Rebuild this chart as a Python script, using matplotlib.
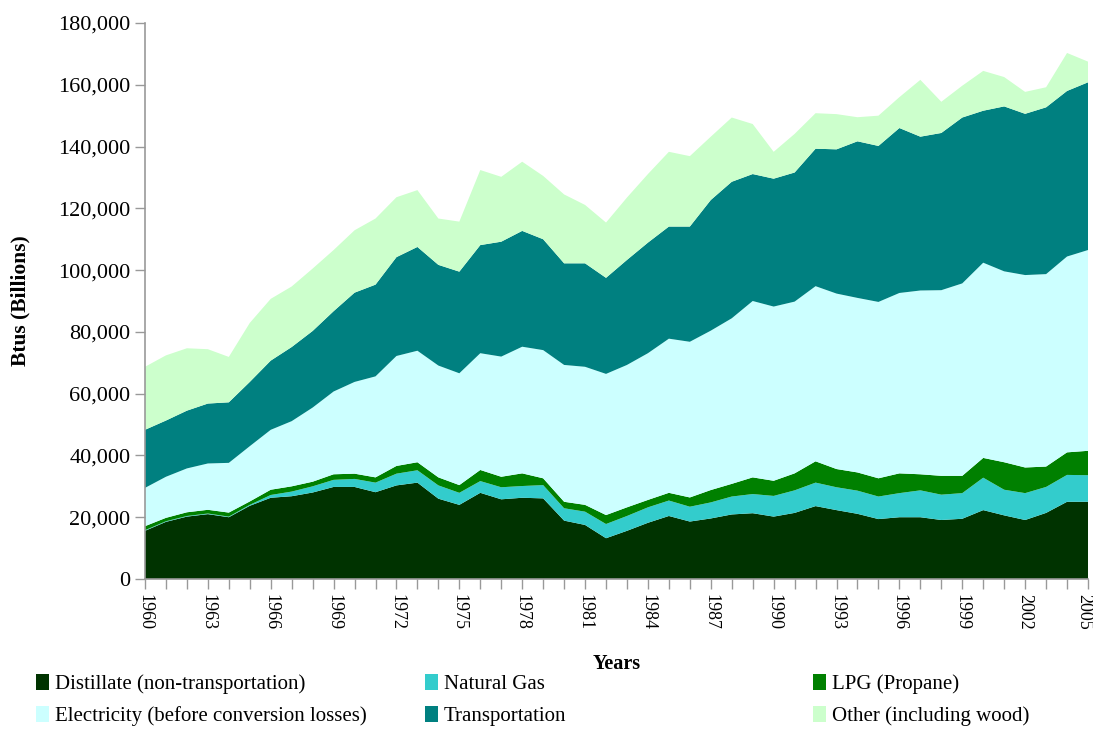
import matplotlib
matplotlib.use('Agg')
import matplotlib.pyplot as plt
import matplotlib.transforms as mtransforms
from matplotlib.patches import Patch
from matplotlib.ticker import FuncFormatter

years = list(range(1960, 2006))

# Btus (billions), in thousands
distillate = [15.6, 18.5, 20.2, 21.0, 20.0, 23.7, 26.3, 26.8, 28.0, 29.8,
              29.8, 28.1, 30.3, 31.2, 26.0, 24.0, 27.9, 25.8, 26.3, 26.1,
              18.9, 17.5, 13.2, 15.6, 18.2, 20.4, 18.6, 19.6, 20.9, 21.3,
              20.2, 21.4, 23.6, 22.3, 21.1, 19.4, 20.0, 20.0, 19.1, 19.5,
              22.3, 20.6, 19.1, 21.4, 25.0, 25.0]
natural_gas = [0.2, 0.2, 0.2, 0.2, 0.2, 0.3, 0.9, 1.5, 2.0, 2.3,
               2.6, 3.1, 3.8, 4.0, 4.3, 3.9, 3.8, 3.9, 3.8, 4.3,
               4.0, 4.3, 4.6, 4.8, 5.0, 5.0, 4.8, 5.2, 5.8, 6.2,
               6.7, 7.3, 7.6, 7.4, 7.5, 7.3, 7.8, 8.7, 8.2, 8.3,
               10.5, 8.3, 8.7, 8.4, 8.7, 8.6]
lpg = [1.3, 1.1, 1.2, 1.2, 1.3, 1.1, 1.7, 1.7, 1.5, 1.8,
       1.7, 1.7, 2.5, 2.6, 2.6, 2.5, 3.6, 3.4, 4.1, 2.2,
       2.1, 2.2, 2.9, 2.8, 2.4, 2.5, 3.0, 4.0, 4.1, 5.4,
       4.9, 5.5, 6.9, 5.9, 5.9, 5.9, 6.4, 5.2, 6.1, 5.6,
       6.4, 8.9, 8.3, 6.6, 7.3, 7.9]
electricity = [12.4, 13.3, 14.2, 15.0, 16.1, 17.9, 19.4, 21.1, 24.0, 26.8,
               29.7, 32.7, 35.6, 36.1, 36.2, 36.2, 37.8, 38.9, 41.0, 41.5,
               44.3, 44.7, 45.7, 46.1, 47.5, 49.9, 50.4, 51.6, 53.6, 57.1,
               56.4, 55.6, 56.7, 56.8, 56.5, 57.1, 58.4, 59.5, 60.1, 62.3,
               63.2, 61.8, 62.3, 62.3, 63.4, 65.0]
transportation = [18.8, 18.2, 18.7, 19.4, 19.6, 20.8, 22.4, 24.0, 24.8, 26.0,
                  28.9, 29.7, 32.0, 33.6, 32.6, 32.9, 35.0, 37.2, 37.5, 35.9,
                  32.9, 33.5, 31.1, 34.0, 35.8, 36.3, 37.3, 42.3, 44.2, 41.1,
                  41.4, 41.8, 44.5, 46.7, 50.7, 50.5, 53.4, 49.8, 50.9, 53.7,
                  49.2, 53.4, 52.2, 54.0, 53.6, 54.3]
other = [20.4, 21.1, 20.2, 17.6, 14.7, 19.1, 20.0, 19.6, 20.2, 19.8,
         20.2, 21.4, 19.4, 18.4, 15.0, 16.2, 24.3, 21.0, 22.4, 20.5,
         22.3, 18.9, 17.9, 20.2, 22.2, 24.2, 22.8, 20.5, 20.8, 16.2,
         8.7, 12.5, 11.5, 11.4, 7.8, 9.8, 10.0, 18.4, 10.1, 10.3,
         12.9, 9.5, 7.1, 6.5, 12.3, 6.7]

labels = ['Distillate (non-transportation)', 'Natural Gas', 'LPG (Propane)',
          'Electricity (before conversion losses)', 'Transportation',
          'Other (including wood)']
colors = ['#003300', '#33CCCC', '#008000', '#CCFFFF', '#008080', '#CCFFCC']

series = [distillate, natural_gas, lpg, electricity, transportation, other]
series = [[v * 1000 for v in s] for s in series]

plt.rcParams['font.family'] = ['Liberation Serif', 'DejaVu Serif']

fig = plt.figure(figsize=(10.93, 7.3), dpi=100)
ax = fig.add_axes([145 / 1093, 151 / 730, 943 / 1093, 556 / 730])

ax.stackplot(years, *series, colors=colors, linewidth=0)

ax.set_xlim(1960, 2005)
ax.set_ylim(0, 180000)
ax.set_yticks(range(0, 180001, 20000))
ax.yaxis.set_major_formatter(FuncFormatter(lambda v, p: '{:,.0f}'.format(v)))
ax.set_xticks(years)
ax.set_xticklabels([str(y) if (y - 1960) % 3 == 0 else '' for y in years],
                   rotation=-90, fontsize=13)
ax.tick_params(axis='y', labelsize=16, color='#999999', length=7, width=1)
ax.tick_params(axis='x', color='#999999', length=7, width=1, pad=4)

# last label sits right at the figure edge, nudge it in a bit
last = ax.get_xticklabels()[-1]
last.set_transform(last.get_transform() +
                   mtransforms.ScaledTranslation(-4 / 100, 0, fig.dpi_scale_trans))

for s in ['top', 'right']:
    ax.spines[s].set_visible(False)
for s in ['left', 'bottom']:
    ax.spines[s].set_color('#999999')
    ax.spines[s].set_linewidth(1.2)

ax.set_ylabel('Btus (Billions)', fontsize=15.5, fontweight='bold', labelpad=20)
ax.set_xlabel('Years', fontsize=14.5, fontweight='bold', labelpad=17)

handles = [Patch(facecolor=c, edgecolor='none', label=l) for c, l in zip(colors, labels)]
xpos = [36, 425, 813]
for i, x in enumerate(xpos):
    fig.legend(handles=[handles[i], handles[i + 3]], loc='upper left',
               bbox_to_anchor=(x / 1093, 56 / 730), frameon=False,
               fontsize=15, borderpad=0, borderaxespad=0,
               handlelength=0.6, handleheight=0.8, handletextpad=0.3,
               labelspacing=0.55)

plt.savefig('out.png', dpi=100)
